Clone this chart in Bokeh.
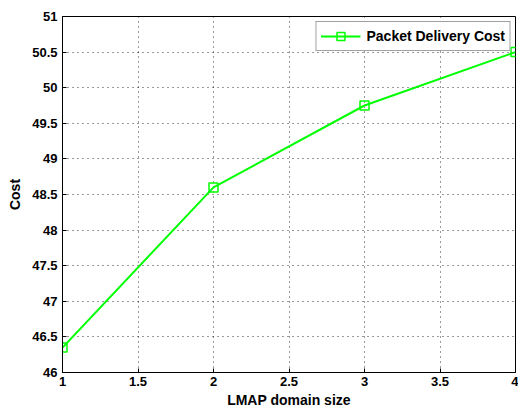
from bokeh.plotting import figure
from bokeh.models import Legend, LegendItem, FixedTicker
from bokeh.embed import file_html
from bokeh.resources import INLINE

domain_size = [1, 2, 3, 4]
cost = [46.35, 48.6, 49.75, 50.5]
series_name = "Packet Delivery Cost"
x_ticks = [1, 1.5, 2, 2.5, 3, 3.5, 4]
y_ticks = [46, 46.5, 47, 47.5, 48, 48.5, 49, 49.5, 50, 50.5, 51]

FONT = "Liberation Sans"

p = figure(width=518, height=414, output_backend="svg", toolbar_location=None,
           x_range=(1, 4), y_range=(46, 51),
           min_border_left=62, min_border_right=3, min_border_top=16, min_border_bottom=42)
p.background_fill_color = "white"
p.border_fill_color = "white"
p.outline_line_color = "black"
p.outline_line_width = 1

for ax in [p.xaxis[0], p.yaxis[0]]:
    ax.major_tick_in = 4
    ax.major_tick_out = 0
    ax.minor_tick_in = 0
    ax.minor_tick_out = 0
    ax.major_label_text_font = FONT
    ax.major_label_text_font_style = "bold"
    ax.major_label_text_font_size = "13px"
    ax.major_label_text_color = "black"
    ax.axis_label_text_font = FONT
    ax.axis_label_text_font_style = "bold"
    ax.axis_label_text_font_size = "14px"
    ax.axis_label_text_color = "black"
    ax.axis_line_color = "black"
    ax.major_tick_line_color = "black"

p.xaxis[0].ticker = FixedTicker(ticks=x_ticks)
p.yaxis[0].ticker = FixedTicker(ticks=y_ticks)
p.xaxis[0].axis_label = "LMAP domain size"
p.yaxis[0].axis_label = "Cost"
p.xaxis[0].major_label_overrides = {t: f"{t:g}" for t in x_ticks}
p.xaxis[0].major_label_standoff = 4
p.yaxis[0].major_label_standoff = 5
p.xaxis[0].axis_label_standoff = 3
p.yaxis[0].axis_label_standoff = 6

p.xgrid.ticker = FixedTicker(ticks=x_ticks)
p.ygrid.ticker = FixedTicker(ticks=y_ticks)
for g in [p.xgrid[0], p.ygrid[0]]:
    g.grid_line_color = "black"
    g.grid_line_dash = "1 4"
    g.grid_line_width = 1
    g.grid_line_alpha = 0.8

ln = p.line(domain_size, cost, line_color="#00ff00", line_width=2)
mk = p.scatter(domain_size, cost, marker="square", size=9, fill_color=None,
               line_color="#00ff00", line_width=1.5)

legend = Legend(items=[LegendItem(label=series_name, renderers=[ln, mk])],
                location="top_right")
legend.label_text_font = FONT
legend.label_text_font_style = "bold"
legend.label_text_font_size = "14px"
legend.label_text_color = "black"
legend.border_line_color = "#444444"
legend.border_line_width = 1.5
legend.glyph_width = 40
legend.label_standoff = 6
legend.padding = 4
legend.margin = 5
legend.spacing = 0
p.add_layout(legend)

open("out.html", "w").write(file_html(p, INLINE))
